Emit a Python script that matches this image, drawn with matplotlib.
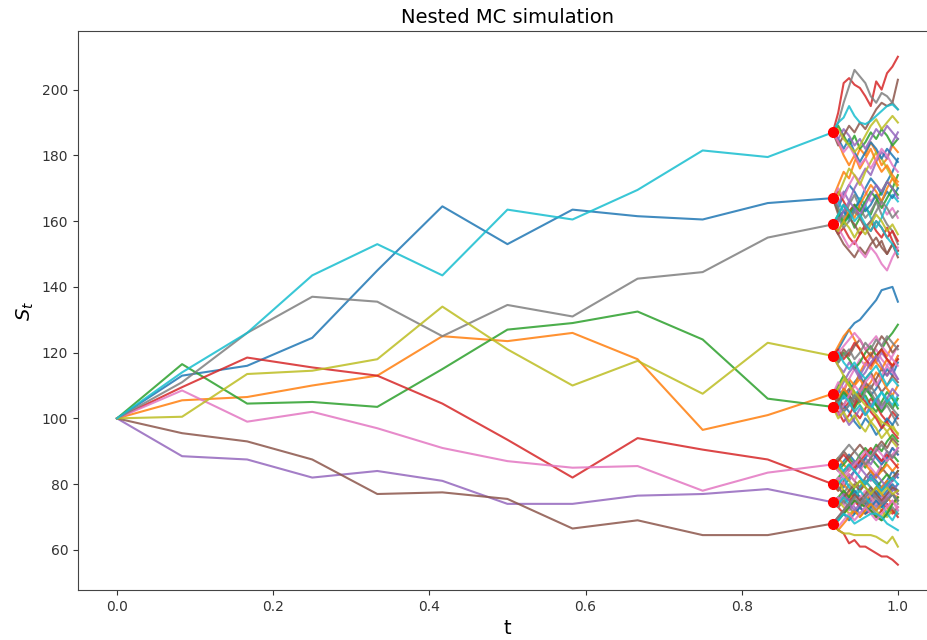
import numpy as np
import matplotlib
matplotlib.use("Agg")
import matplotlib.pyplot as plt

# ---- outer paths (monthly steps, t = 0 .. 11/12) ----
outer_paths = [
    [100, 113, 116, 124.5, 145, 164.5, 153, 163.5, 161.5, 160.5, 165.5, 167],   # blue
    [100, 105.5, 106.5, 110, 113, 125, 123.5, 126, 118, 96.5, 101, 107.5],      # orange
    [100, 116.5, 104.5, 105, 103.5, 115, 127, 129, 132.5, 124, 106, 103.5],     # green
    [100, 109.5, 118.5, 115.5, 113, 104.5, 93.5, 82, 94, 90.5, 87.5, 80],       # red
    [100, 88.5, 87.5, 82, 84, 81, 74, 74, 76.5, 77, 78.5, 74.5],                # purple
    [100, 95.5, 93, 87.5, 77, 77.5, 75.5, 66.5, 69, 64.5, 64.5, 68],            # brown
    [100, 108.5, 99, 102, 97, 91, 87, 85, 85.5, 78, 83.5, 86],                  # pink
    [100, 111, 126, 137, 135.5, 125, 134.5, 131, 142.5, 144.5, 155, 159],       # gray
    [100, 100.5, 113.5, 114.5, 118, 134, 121, 110, 117.5, 107.5, 123, 119],     # olive
    [100, 114, 126, 143.5, 153, 143.5, 163.5, 160.5, 169.5, 181.5, 179.5, 187], # cyan
]

# ---- inner paths from t = 11/12 to 1 (values after the starting node) ----
inner_0 = [
    [164, 168, 171, 169, 166, 170, 173, 171, 168, 172, 175, 179],
    [171, 175, 173, 178, 182, 180, 184, 181, 177, 179, 183, 181],
    [163, 160, 162, 158, 161, 164, 162, 166, 169, 172, 170, 174],
    [169, 166, 163, 165, 161, 158, 160, 157, 155, 158, 154, 151],
    [165, 169, 166, 170, 173, 176, 174, 178, 181, 179, 184, 187],
    [162, 165, 161, 159, 156, 158, 155, 152, 154, 150, 153, 149],
    [170, 167, 171, 174, 172, 169, 166, 168, 165, 162, 164, 161],
    [164, 161, 165, 168, 164, 161, 163, 166, 162, 159, 157, 153],
    [168, 172, 176, 174, 171, 175, 178, 181, 179, 176, 173, 170],
    [166, 163, 160, 163, 167, 165, 161, 158, 161, 165, 168, 166],
]
inner_1 = [
    [109, 106, 108, 111, 113, 110, 107, 109, 112, 115, 113, 117],
    [105, 108, 112, 110, 114, 117, 115, 118, 121, 119, 122, 124],
    [110, 113, 111, 108, 105, 107, 104, 102, 105, 108, 106, 103],
    [106, 103, 105, 102, 100, 103, 106, 104, 101, 99, 102, 100],
    [108, 111, 114, 116, 113, 116, 119, 117, 120, 118, 115, 119],
    [104, 107, 109, 106, 109, 112, 114, 111, 108, 110, 113, 111],
    [111, 109, 112, 115, 118, 116, 119, 121, 118, 116, 119, 122],
    [106, 109, 107, 104, 107, 110, 108, 105, 102, 104, 101, 98],
    [109, 112, 110, 107, 104, 102, 99, 101, 98, 96, 98, 95],
    [105, 102, 104, 107, 109, 106, 103, 105, 108, 106, 104, 107],
]
inner_2 = [
    [101, 104, 102, 99, 97, 100, 98, 95, 97, 100, 98, 101],
    [106, 109, 107, 110, 112, 109, 111, 114, 112, 109, 107, 110],
    [105, 108, 106, 103, 106, 109, 107, 104, 102, 105, 103, 106],
    [102, 99, 101, 104, 107, 105, 102, 100, 97, 99, 96, 94],
    [104, 101, 98, 100, 103, 101, 104, 106, 103, 106, 109, 107],
    [106, 104, 107, 105, 108, 111, 109, 112, 115, 113, 116, 118],
    [101, 104, 107, 110, 108, 111, 113, 110, 113, 116, 114, 112],
    [105, 102, 104, 107, 105, 108, 110, 107, 104, 106, 103, 101],
    [100, 102, 99, 101, 98, 96, 99, 97, 94, 96, 93, 91],
    [104, 107, 105, 102, 104, 101, 103, 106, 108, 105, 107, 104],
]
inner_3 = [
    [81, 79, 82, 84, 82, 80, 83, 81, 79, 81, 84, 82],
    [78, 80, 78, 76, 78, 81, 79, 77, 79, 81, 79, 77],
    [82, 84, 86, 84, 87, 85, 88, 86, 84, 87, 89, 87],
    [79, 77, 75, 77, 75, 73, 75, 77, 75, 73, 71, 73],
    [81, 83, 81, 84, 86, 88, 86, 89, 87, 90, 88, 91],
    [78, 81, 83, 81, 79, 82, 84, 82, 85, 83, 81, 83],
    [82, 80, 83, 81, 84, 87, 85, 83, 86, 88, 91, 89],
    [79, 77, 80, 78, 76, 74, 77, 75, 73, 75, 77, 74],
    [81, 78, 76, 78, 76, 74, 76, 74, 72, 70, 72, 71],
    [80, 82, 79, 77, 79, 81, 79, 76, 78, 80, 78, 80],
]
inner_4 = [
    [76, 74, 76, 78, 76, 74, 76, 78, 76, 78, 80, 78],
    [73, 75, 77, 75, 73, 75, 77, 79, 77, 75, 77, 76],
    [76, 78, 76, 79, 81, 79, 77, 79, 81, 83, 81, 84],
    [73, 71, 73, 75, 73, 71, 72, 70, 72, 74, 72, 70],
    [75, 77, 75, 73, 71, 73, 75, 73, 75, 77, 79, 77],
    [74, 76, 78, 80, 78, 80, 82, 80, 78, 80, 82, 84],
    [76, 74, 72, 74, 76, 78, 76, 74, 76, 73, 75, 73],
    [73, 75, 73, 71, 73, 75, 73, 71, 69, 71, 73, 71],
    [75, 73, 71, 72, 70, 72, 74, 72, 70, 72, 74, 75],
    [74, 76, 74, 76, 78, 76, 74, 72, 74, 71, 69, 72],
]
inner_5 = [
    [69, 71, 69, 71, 73, 71, 73, 75, 73, 75, 77, 75],
    [66, 68, 70, 72, 70, 72, 74, 72, 74, 76, 74, 76],
    [69, 71, 73, 75, 74, 73, 72, 70, 69, 71, 74, 76],
    [66, 65, 62, 63, 61, 61, 60, 59, 58, 58, 57, 55.5],
    [70, 72, 74, 72, 74, 76, 78, 76, 74, 76, 78, 80],
    [70, 72, 74, 77, 75, 77, 79, 77, 75, 77, 79, 78],
    [67, 69, 71, 69, 71, 73, 71, 69, 71, 73, 75, 72],
    [70, 72, 74, 76, 74, 76, 78, 76, 74, 75, 77, 75],
    [66, 65, 65, 64.5, 64.5, 64.5, 64.5, 64, 63, 62, 64, 61],
    [69, 71, 70, 68, 69, 70, 71, 71, 70, 68, 67, 66],
]
inner_6 = [
    [85, 87, 89, 87, 85, 88, 90, 88, 86, 88, 91, 89],
    [88, 86, 84, 86, 88, 86, 84, 82, 84, 86, 84, 86],
    [84, 86, 88, 86, 89, 91, 89, 92, 90, 93, 95, 93],
    [87, 89, 87, 85, 87, 89, 91, 89, 87, 89, 87, 85],
    [85, 83, 85, 87, 85, 83, 81, 83, 81, 79, 81, 83],
    [87, 90, 88, 90, 92, 90, 88, 91, 93, 91, 94, 92],
    [84, 82, 84, 86, 88, 90, 88, 91, 89, 87, 89, 91],
    [88, 90, 92, 90, 88, 86, 88, 90, 92, 90, 88, 90],
    [85, 83, 81, 79, 81, 79, 77, 79, 77, 79, 77, 78],
    [86, 84, 86, 84, 82, 80, 82, 80, 78, 80, 82, 80],
]
inner_7 = [
    [161, 163, 161, 164, 166, 163, 165, 168, 166, 169, 167, 170],
    [157, 160, 163, 161, 165, 168, 171, 169, 166, 170, 173, 171],
    [162, 159, 162, 165, 163, 166, 169, 167, 164, 167, 170, 168],
    [156, 158, 155, 153, 156, 159, 157, 160, 158, 155, 157, 154],
    [160, 163, 166, 164, 162, 165, 168, 171, 169, 172, 170, 167],
    [156, 153, 151, 149, 152, 150, 153, 155, 152, 150, 153, 151],
    [158, 155, 152, 154, 151, 149, 152, 150, 147, 145, 149, 152],
    [161, 158, 160, 163, 161, 158, 160, 163, 166, 164, 161, 163],
    [157, 160, 158, 155, 158, 156, 159, 162, 160, 157, 159, 156],
    [162, 165, 163, 160, 162, 159, 157, 160, 158, 155, 153, 150],
]
inner_8 = [
    [121, 124, 127, 129, 130, 132, 134, 136, 139, 139.5, 140, 135.5],
    [122, 125, 127, 124, 121, 118, 120, 117, 115, 118, 116, 119],
    [117, 120, 118, 115, 117, 120, 122, 119, 121, 124, 126, 128.5],
    [121, 118, 120, 123, 121, 118, 116, 119, 121, 118, 116, 118],
    [116, 114, 117, 115, 112, 114, 117, 119, 116, 113, 115, 112],
    [118, 121, 119, 122, 124, 121, 119, 122, 125, 123, 120, 122],
    [120, 122, 124, 126, 124, 121, 123, 125, 122, 120, 118, 116],
    [117, 119, 121, 118, 120, 123, 121, 124, 122, 125, 123, 121],
    [116, 113, 110, 108, 106, 104, 103, 101, 99, 98, 97, 95.5],
    [120, 117, 115, 117, 114, 112, 114, 116, 113, 110, 112, 110],
]
inner_9 = [
    [185, 182, 185, 181, 178, 181, 184, 182, 179, 182, 180, 178],
    [184, 180, 177, 180, 176, 179, 182, 178, 175, 177, 174, 172],
    [189, 186, 183, 186, 182, 184, 187, 185, 188, 186, 183, 185],
    [193, 202, 203.5, 201.5, 200.5, 198, 195, 202.5, 200, 205, 207, 210],
    [185, 188, 186, 183, 185, 182, 185, 188, 186, 189, 187, 185],
    [183, 186, 189, 187, 190, 188, 191, 194, 196, 195, 196, 203],
    [184, 181, 183, 180, 177, 179, 176, 179, 182, 180, 177, 175],
    [190, 196, 201, 206, 204, 202, 198, 196, 199, 198, 196, 194],
    [188, 185, 183, 181, 183, 186, 189, 191, 188, 190, 192, 190],
    [190, 191.5, 195, 192, 190, 189.5, 190.5, 192, 193.5, 195, 195.5, 194],
]
inner_paths = [inner_0, inner_1, inner_2, inner_3, inner_4,
               inner_5, inner_6, inner_7, inner_8, inner_9]

t_outer = np.arange(12) / 12
t_inner = np.linspace(11 / 12, 1, 13)

fig = plt.figure(figsize=(9.27, 6.40), dpi=100)
ax = fig.add_axes([0.0841, 0.078, 0.9266, 0.873])

for path in outer_paths:
    ax.plot(t_outer, path, alpha=0.85)

for node, paths in zip(outer_paths, inner_paths):
    for p in paths:
        ax.plot(t_inner, [node[-1]] + p, alpha=0.85)

ax.plot([t_outer[-1]] * len(outer_paths), [p[-1] for p in outer_paths],
        'ro', markersize=7, zorder=5)

ax.set_title("Nested MC simulation", fontsize=14)
ax.set_xlabel("t", fontsize=14)
ax.set_ylabel("$S_t$", fontsize=14)
ax.tick_params(labelsize=10, colors='#333333')
for s in ax.spines.values():
    s.set_color('#444444')

fig.savefig("out.png", dpi=100)
